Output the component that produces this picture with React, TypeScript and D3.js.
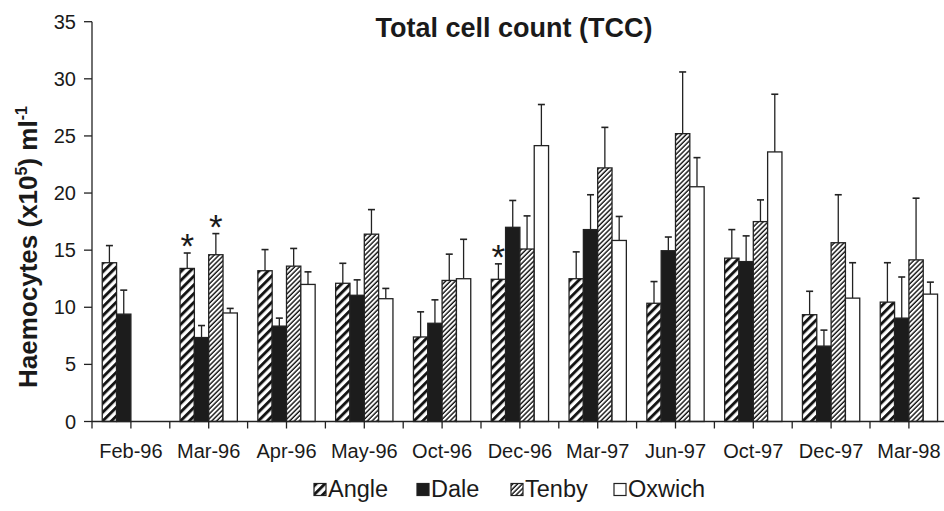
import React from "react";
import * as d3 from "d3";

const categories = ["Feb-96", "Mar-96", "Apr-96", "May-96", "Oct-96", "Dec-96", "Mar-97", "Jun-97", "Oct-97", "Dec-97", "Mar-98"];
const sites = ["Angle", "Dale", "Tenby", "Oxwich"];

// mean TCC per site (x10^5 ml^-1), null = not sampled
const angle = [13.9, 13.4, 13.2, 12.1, 7.4, 12.45, 12.5, 10.35, 14.3, 9.35, 10.45];
const dale = [9.4, 7.35, 8.35, 11.05, 8.6, 17.0, 16.8, 14.95, 14.0, 6.6, 9.05];
const tenby = [null, 14.6, 13.6, 16.4, 12.35, 15.1, 22.2, 25.2, 17.5, 15.65, 14.15];
const oxwich = [null, 9.5, 12.0, 10.75, 12.5, 24.15, 15.85, 20.55, 23.6, 10.8, 11.15];

// upper error (SE)
const angleErr = [1.5, 1.35, 1.85, 1.75, 2.2, 1.35, 2.35, 1.9, 2.5, 2.05, 3.45];
const daleErr = [2.1, 1.05, 0.7, 1.35, 2.05, 2.35, 3.05, 1.2, 2.25, 1.4, 3.6];
const tenbyErr = [null, 1.85, 1.55, 2.15, 2.3, 2.9, 3.55, 5.4, 1.9, 4.2, 5.4];
const oxwichErr = [null, 0.4, 1.1, 0.9, 3.45, 3.6, 2.1, 2.55, 5.05, 3.1, 1.05];

// significant differences marked with *
const stars = [
  { cat: "Mar-96", site: "Angle" },
  { cat: "Mar-96", site: "Tenby" },
  { cat: "Dec-96", site: "Angle" },
];

const yTicks = [0, 5, 10, 15, 20, 25, 30, 35];

const values: Record<string, (number | null)[]> = { Angle: angle, Dale: dale, Tenby: tenby, Oxwich: oxwich };
const errors: Record<string, (number | null)[]> = { Angle: angleErr, Dale: daleErr, Tenby: tenbyErr, Oxwich: oxwichErr };
const fills: Record<string, string> = { Angle: "url(#pAngle)", Dale: "#1c1c1c", Tenby: "url(#pTenby)", Oxwich: "#fff" };

const W = 944;
const H = 511;
const left = 92;
const catW = 77.8;
const FONT = "'Liberation Sans', Arial, sans-serif";

export default function App() {
  const x = d3.scaleBand<string>().domain(categories).range([left, left + catW * categories.length]);
  const groupW = 57.3;
  const xs = d3
    .scaleBand<string>()
    .domain(sites)
    .range([(x.bandwidth() - groupW) / 2, (x.bandwidth() + groupW) / 2]);
  const y = d3.scaleLinear().domain([0, 35]).range([421.5, 21.7]);

  const halfTicks = d3.range(categories.length * 2 + 1).map((i) => left + (i * x.bandwidth()) / 2);

  const legendX = [314, 417, 511, 614];

  return (
    <svg width={W} height={H} style={{ position: "absolute", left: 0, top: 0, background: "#fff" }}>
      <defs>
        <pattern id="pAngle" width="6.2" height="6.2" patternUnits="userSpaceOnUse" patternTransform="rotate(45)">
          <rect width="6.2" height="6.2" fill="#fff" />
          <line x1="1.5" y1="0" x2="1.5" y2="6.2" stroke="#111" strokeWidth="2.9" />
        </pattern>
        <pattern id="pTenby" width="3.4" height="3.4" patternUnits="userSpaceOnUse" patternTransform="rotate(45)">
          <rect width="3.4" height="3.4" fill="#fff" />
          <line x1="1" y1="0" x2="1" y2="3.4" stroke="#111" strokeWidth="1.4" />
        </pattern>
      </defs>

      <rect width={W} height={H} fill="#fff" />

      <text x={514} y={36.5} textAnchor="middle" fontFamily={FONT} fontWeight="bold" fontSize={27} fill="#1a1a1a">
        Total cell count (TCC)
      </text>

      {/* y axis */}
      <line x1={left} x2={left} y1={y(35)} y2={y(0)} stroke="#222" strokeWidth={1.3} />
      {yTicks.map((t) => (
        <g key={t}>
          <line x1={left - 8} x2={left} y1={y(t)} y2={y(t)} stroke="#222" strokeWidth={1.3} />
          <text x={left - 16} y={y(t) + 7} textAnchor="end" fontFamily={FONT} fontSize={20} fill="#1a1a1a">
            {t}
          </text>
        </g>
      ))}
      <text
        transform={`translate(37,247) rotate(-90)`}
        textAnchor="middle"
        fontFamily={FONT}
        fontWeight="bold"
        fontSize={26}
        fill="#1a1a1a"
      >
        Haemocytes (x10
        <tspan fontSize={16} dy={-10}>5</tspan>
        <tspan dy={10}>) ml</tspan>
        <tspan fontSize={16} dy={-10}>-1</tspan>
      </text>

      {/* bars */}
      {categories.map((c, ci) => (
        <g key={c} transform={`translate(${x(c)},0)`}>
          {sites.map((s) => {
            const v = values[s][ci];
            const e = errors[s][ci];
            if (v == null) return null;
            const bx = xs(s)!;
            const cx = bx + xs.bandwidth() / 2;
            const top = y(v + (e ?? 0));
            return (
              <g key={s}>
                <line x1={cx} x2={cx} y1={y(v)} y2={top} stroke="#222" strokeWidth={1.3} />
                <line x1={cx - 3.5} x2={cx + 3.5} y1={top} y2={top} stroke="#222" strokeWidth={1.6} />
                <rect
                  x={bx}
                  y={y(v)}
                  width={xs.bandwidth()}
                  height={y(0) - y(v)}
                  fill={fills[s]}
                  stroke="#222"
                  strokeWidth={1.3}
                />
              </g>
            );
          })}
        </g>
      ))}

      {stars.map((st) => {
        const ci = categories.indexOf(st.cat);
        const v = values[st.site][ci]!;
        const e = errors[st.site][ci]!;
        const cx = x(st.cat)! + xs(st.site)! + xs.bandwidth() / 2;
        return (
          <text
            key={st.cat + st.site}
            x={cx}
            y={y(v + e) + 5}
            textAnchor="middle"
            fontFamily={FONT}
            fontSize={35}
            fill="#1a1a1a"
          >
            *
          </text>
        );
      })}

      {/* x axis */}
      <line x1={left} x2={W} y1={y(0)} y2={y(0)} stroke="#222" strokeWidth={1.3} />
      {halfTicks.map((t, i) => (
        <line key={i} x1={t} x2={t} y1={y(0)} y2={y(0) + 7} stroke="#222" strokeWidth={1.3} />
      ))}
      {categories.map((c) => (
        <text
          key={c}
          x={x(c)! + x.bandwidth() / 2}
          y={457.5}
          textAnchor="middle"
          fontFamily={FONT}
          fontSize={20}
          fill="#1a1a1a"
        >
          {c}
        </text>
      ))}

      {/* legend */}
      {sites.map((s, i) => (
        <g key={s}>
          <rect x={legendX[i]} y={483.5} width={12} height={12} fill={fills[s]} stroke="#222" strokeWidth={1.2} />
          <text x={legendX[i] + 14} y={497} fontFamily={FONT} fontSize={23.5} fill="#1a1a1a">
            {s}
          </text>
        </g>
      ))}
    </svg>
  );
}
